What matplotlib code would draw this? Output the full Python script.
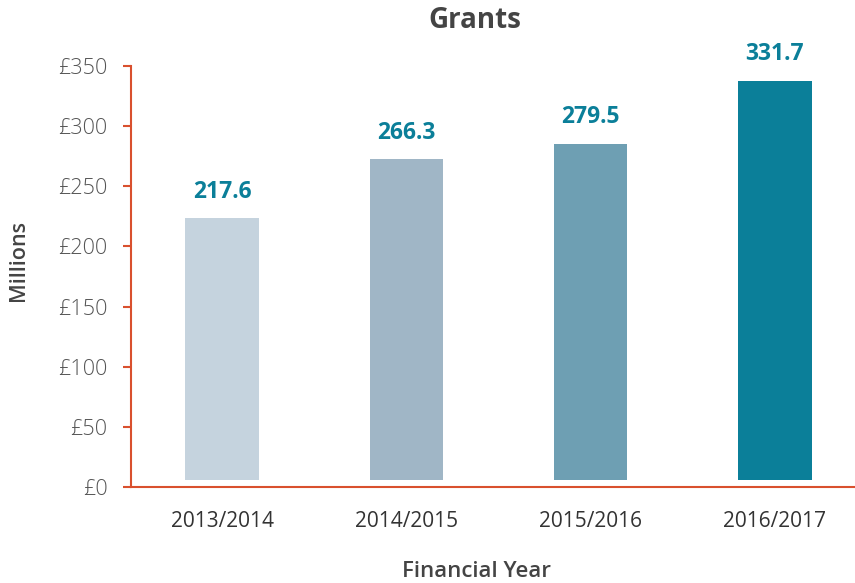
import matplotlib
matplotlib.use("Agg")
import matplotlib.pyplot as plt

years = ["2013/2014", "2014/2015", "2015/2016", "2016/2017"]
grants = [217.6, 266.3, 279.5, 331.7]
bar_colors = ["#c5d3de", "#a0b6c6", "#6e9fb3", "#0b7f99"]
yticks = [0, 50, 100, 150, 200, 250, 300, 350]

plt.rcParams['font.family'] = ['Open Sans', 'DejaVu Sans']

fig = plt.figure(figsize=(8.55, 5.83), dpi=100)
ax = fig.add_axes([0.1532, 0.1647, 0.8468, 0.8868 - 0.1647])

x = list(range(len(years)))
# bars in the original float a few units above the axis line
ax.bar(x, grants, width=0.4, bottom=6, color=bar_colors)

for xi, v in zip(x, grants):
    ax.annotate(f"{v:.1f}", (xi, v + 6), xytext=(0, 19), textcoords="offset points",
                ha="center", va="center", fontsize=16.5, fontweight="bold",
                color="#0b7f99")

ax.set_xlim(-0.495, 3.435)
ax.set_ylim(0, 350)
ax.set_yticks(yticks)
ax.set_yticklabels([f"£{t}" for t in yticks], fontsize=15.5, color="#555555",
                   fontweight="light")
ax.set_xticks(x)
ax.set_xticklabels(years, fontsize=15, color="#333333")

spine_col = "#d9502e"
for s in ["top", "right"]:
    ax.spines[s].set_visible(False)
for s in ["left", "bottom"]:
    ax.spines[s].set_color(spine_col)
    ax.spines[s].set_linewidth(1.5)
ax.tick_params(axis="y", length=6, width=1.5, color=spine_col, pad=11)
ax.tick_params(axis="x", length=0, pad=17)

fig.text(0.557, 0.019, "Financial Year", ha="center", va="center", fontsize=16,
         fontweight="semibold", color="#444444")
fig.text(0.022, 0.554, "Millions", ha="center", va="center", rotation=90,
         fontsize=15.5, fontweight="semibold", color="#444444")
fig.text(0.555, 0.965, "Grants", ha="center", va="center", fontsize=20,
         fontweight="bold", color="#444444")

fig.savefig("out.png", dpi=100)
